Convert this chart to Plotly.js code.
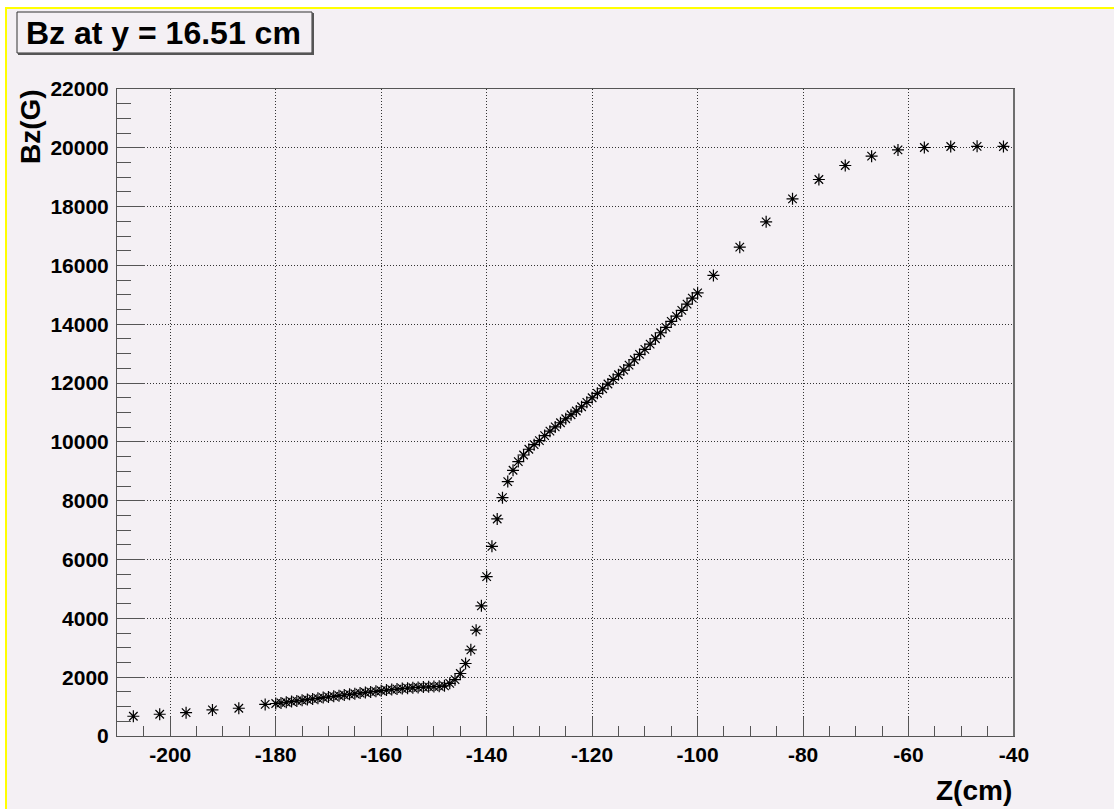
<!DOCTYPE html>
<html>
<head>
<meta charset="utf-8">
<script src="https://cdn.plot.ly/plotly-3.0.1.min.js"></script>
<style>
  html, body { margin: 0; padding: 0; background: #ffffff; }
  #chart { width: 1114px; height: 809px; }
</style>
</head>
<body>
<div id="chart"></div>
<script>
// ---- data ----
const zLeft = [-207, -202, -197, -192, -187, -182];
const bzLeft = [671, 739, 794, 886, 944, 1075];

const zDense = [
  -180,-179,-178,-177,-176,-175,-174,-173,-172,-171,
  -170,-169,-168,-167,-166,-165,-164,-163,-162,-161,
  -160,-159,-158,-157,-156,-155,-154,-153,-152,-151,
  -150,-149,-148,-147,-146,-145,-144,-143,-142,-141,
  -140,-139,-138,-137,-136,-135,-134,-133,-132,-131,
  -130,-129,-128,-127,-126,-125,-124,-123,-122,-121,
  -120,-119,-118,-117,-116,-115,-114,-113,-112,-111,
  -110,-109,-108,-107,-106,-105,-104,-103,-102,-101,
  -100
];
const bzDense = [
  1105,1125,1148,1170,1192,1215,1238,1260,1282,1305,
  1328,1350,1372,1394,1416,1437,1458,1479,1500,1520,
  1540,1560,1578,1596,1612,1627,1640,1652,1662,1671,
  1679,1688,1705,1790,1915,2125,2465,2930,3600,4425,
  5420,6450,7380,8105,8650,9035,9330,9555,9750,9905,
  10045,10215,10365,10510,10652,10788,10924,11050,11196,11346,
  11502,11651,11808,11968,12127,12283,12443,12613,12793,12976,
  13146,13326,13507,13711,13894,14098,14278,14471,14686,14890,
  15070
];

const zRight = [-97, -92, -87, -82, -77, -72, -67, -62, -57, -52, -47, -42];
const bzRight = [15660, 16622, 17482, 18264, 18923, 19399, 19715, 19929, 20010, 20044, 20050, 20046];

// tick labels
const xTickVals = [-200, -180, -160, -140, -120, -100, -80, -60, -40];
const xTickText = ['-200', '-180', '-160', '-140', '-120', '-100', '-80', '-60', '-40'];
const yTickVals = [0, 2000, 4000, 6000, 8000, 10000, 12000, 14000, 16000, 18000, 20000, 22000];
const yTickText = ['0', '2000', '4000', '6000', '8000', '10000', '12000', '14000', '16000', '18000', '20000', '22000'];

const chartTitle = 'Bz at y = 16.51 cm';
const xTitle = 'Z(cm)';
const yTitle = 'Bz(G)';

const zAll = zLeft.concat(zDense, zRight);
const bzAll = bzLeft.concat(bzDense, bzRight);

// ---- layout helpers (pixel -> paper) ----
const W = 1114, H = 809;
const L = 117, R = 1014, T = 89, B = 736;
const px = v => (v - L) / (R - L);
const py = v => (B - v) / (B - T);

const BG = '#f4f0f4';
const FONT = 'Liberation Sans, Arial, Helvetica, sans-serif';

const trace = {
  type: 'scatter',
  mode: 'markers',
  x: zAll,
  y: bzAll,
  marker: {
    symbol: 'asterisk-open',
    size: 10,
    color: '#000000',
    line: { color: '#000000', width: 1.2 }
  },
  hoverinfo: 'x+y'
};

const axisCommon = {
  showline: true,
  linecolor: '#555555',
  linewidth: 1,
  mirror: true,
  ticks: 'inside',
  tickcolor: '#555555',
  tickwidth: 1,
  showgrid: true,
  gridcolor: '#333333',
  gridwidth: 1,
  griddash: '1px,2px',
  zeroline: false,
  tickmode: 'array',
  tickfont: { family: FONT, size: 21, color: '#000000', weight: 'bold' }
};

const layout = {
  width: W,
  height: H,
  margin: { l: L, r: W - R, t: T, b: H - B, pad: 0 },
  paper_bgcolor: BG,
  plot_bgcolor: BG,
  showlegend: false,
  title: {
    text: chartTitle,
    font: { family: FONT, size: 32, color: '#000000', weight: 'bold' },
    xref: 'container', yref: 'container',
    x: 26 / W, xanchor: 'left',
    y: 1 - 33 / H, yanchor: 'middle',
    pad: { t: 0, b: 0, l: 0, r: 0 }
  },
  xaxis: Object.assign({}, axisCommon, {
    range: [-210.1, -40],
    tickvals: xTickVals,
    ticktext: xTickText,
    ticklen: 19,
    minor: { dtick: 5, tick0: -200, ticklen: 10, tickcolor: '#555555', ticks: 'inside', showgrid: false },
    title: { text: '' }
  }),
  yaxis: Object.assign({}, axisCommon, {
    range: [0, 22000],
    tickvals: yTickVals,
    ticktext: yTickText,
    ticklen: 28,
    ticklabelstandoff: 3,
    minor: { dtick: 500, tick0: 0, ticklen: 14, tickcolor: '#555555', ticks: 'inside', showgrid: false },
    title: { text: '' }
  }),
  annotations: [
    {
      text: xTitle, xref: 'paper', yref: 'paper',
      x: 1, xanchor: 'right', y: py(790), yanchor: 'middle',
      showarrow: false,
      font: { family: FONT, size: 28, color: '#000000', weight: 'bold' }
    },
    {
      text: yTitle, xref: 'paper', yref: 'paper',
      x: px(31), xanchor: 'center', y: py(127), yanchor: 'middle',
      textangle: -90,
      showarrow: false,
      font: { family: FONT, size: 28, color: '#000000', weight: 'bold' }
    }
  ],
  shapes: [
    // white strips outside the canvas edge
    { type: 'rect', xref: 'paper', yref: 'paper', x0: px(0), x1: px(W), y0: py(7), y1: py(0),
      fillcolor: '#ffffff', line: { width: 0 }, layer: 'below' },
    { type: 'rect', xref: 'paper', yref: 'paper', x0: px(0), x1: px(5), y0: py(H), y1: py(0),
      fillcolor: '#ffffff', line: { width: 0 }, layer: 'below' },
    // yellow canvas border (top, left)
    { type: 'line', xref: 'paper', yref: 'paper', x0: px(5), x1: px(W), y0: py(8), y1: py(8),
      line: { color: '#ffff00', width: 2 } },
    { type: 'line', xref: 'paper', yref: 'paper', x0: px(6), x1: px(6), y0: py(7), y1: py(H),
      line: { color: '#ffff00', width: 2 } },
    // title box
    { type: 'rect', xref: 'paper', yref: 'paper', x0: px(17), x1: px(312), y0: py(53), y1: py(12),
      line: { color: '#333333', width: 1 }, fillcolor: 'rgba(0,0,0,0)' },
    { type: 'line', xref: 'paper', yref: 'paper', x0: px(313), x1: px(313), y0: py(55), y1: py(13),
      line: { color: '#555555', width: 2 } },
    { type: 'line', xref: 'paper', yref: 'paper', x0: px(18), x1: px(314), y0: py(54), y1: py(54),
      line: { color: '#555555', width: 2 } },
    // heavier right frame edge
    { type: 'line', xref: 'paper', yref: 'paper', x0: 1, x1: 1, y0: 0, y1: 1,
      line: { color: '#6e6e6e', width: 2 } }
  ]
};

Plotly.newPlot('chart', [trace], layout, { displayModeBar: false, staticPlot: true });
</script>
</body>
</html>
